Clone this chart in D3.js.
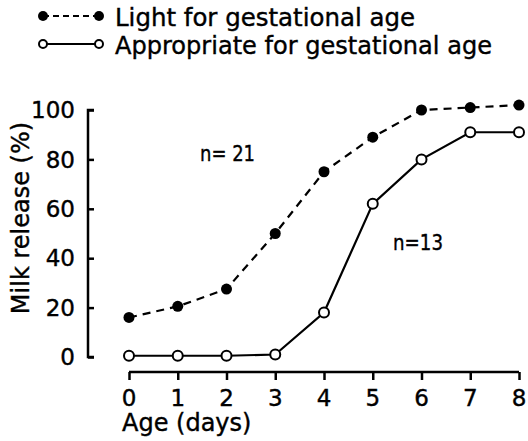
<!DOCTYPE html>
<meta charset="utf-8">
<style>
body { margin: 0; background: #fff; }
svg text { font-family: "DejaVu Sans", sans-serif; fill: #000; stroke: #000; stroke-width: 0.4px; }
.axis path, .axis line { stroke: #000; stroke-width: 2.5px; }
</style>
<svg width="528" height="441"></svg>
<script src="https://d3js.org/d3.v7.min.js"></script>
<script>

// data
var days = [0, 1, 2, 3, 4, 5, 6, 7, 8];
var lightValues = [16, 20.5, 27.5, 50, 75, 89, 100, 101, 102];
var appropriateValues = [0.5, 0.5, 0.5, 1, 18, 62, 80, 91, 91];
var yTicks = [0, 20, 40, 60, 80, 100];
var seriesNames = ["Light for gestational age", "Appropriate for gestational age"];
var nLabels = ["n= 21", "n=13"];

var svg = d3.select("svg");

var x = d3.scaleLinear().domain([0, 8]).range([129, 519]);
var y = d3.scaleLinear().domain([0, 100]).range([357, 110]);

// y axis
var yAxis = d3.axisRight(y).tickValues(yTicks).tickSize(6).tickFormat(function(d) { return ""; });
var gy = svg.append("g").attr("class", "axis").attr("transform", "translate(88,0)").call(yAxis);
gy.select(".domain").attr("d", "M" + 6 + "," + y(100) + "H0V" + y(0) + "H6");
svg.append("g").selectAll("text").data(yTicks).enter().append("text")
  .attr("x", 75).attr("y", function(d) { return y(d); })
  .attr("dy", "0.36em").attr("text-anchor", "end")
  .style("font-size", "23px")
  .text(function(d) { return d; });

svg.append("text")
  .attr("transform", "translate(29,218) rotate(-90)")
  .attr("text-anchor", "middle")
  .style("font-size", "24px")
  .text("Milk release (%)");

// x axis
var xAxis = d3.axisBottom(x).tickValues(days).tickSize(8).tickFormat(function(d) { return ""; });
var gx = svg.append("g").attr("class", "axis").attr("transform", "translate(0,372)").call(xAxis);
gx.select(".domain").attr("d", "M" + x(0) + ",0H" + x(8));
svg.append("g").selectAll("text").data(days).enter().append("text")
  .attr("x", function(d) { return x(d); }).attr("y", 406)
  .attr("text-anchor", "middle")
  .style("font-size", "23px")
  .text(function(d) { return d; });

svg.append("text")
  .attr("x", 122).attr("y", 431)
  .style("font-size", "24px")
  .text("Age (days)");

// lines
var line = d3.line().x(function(d, i) { return x(days[i]); }).y(function(d) { return y(d); });

svg.append("path").datum(lightValues)
  .attr("d", line).attr("fill", "none").attr("stroke", "#000")
  .attr("stroke-width", 2.2).attr("stroke-dasharray", "8,6");

svg.append("path").datum(appropriateValues)
  .attr("d", line).attr("fill", "none").attr("stroke", "#000")
  .attr("stroke-width", 2.2);

svg.append("g").selectAll("circle").data(lightValues).enter().append("circle")
  .attr("cx", function(d, i) { return x(days[i]); })
  .attr("cy", function(d) { return y(d); })
  .attr("r", 5.5).attr("fill", "#000");

svg.append("g").selectAll("circle").data(appropriateValues).enter().append("circle")
  .attr("cx", function(d, i) { return x(days[i]); })
  .attr("cy", function(d) { return y(d); })
  .attr("r", 5).attr("fill", "#fff").attr("stroke", "#000").attr("stroke-width", 2);

// annotations
svg.append("text").attr("x", 200).attr("y", 161).style("font-size", "22px")
  .attr("textLength", 55).attr("lengthAdjust", "spacingAndGlyphs").text(nLabels[0]);
svg.append("text").attr("x", 393).attr("y", 250).style("font-size", "22px")
  .attr("textLength", 50).attr("lengthAdjust", "spacingAndGlyphs").text(nLabels[1]);

// legend
var legend = svg.append("g");
legend.append("line").attr("x1", 43).attr("x2", 99).attr("y1", 16).attr("y2", 16)
  .attr("stroke", "#000").attr("stroke-width", 2).attr("stroke-dasharray", "6,4");
legend.append("circle").attr("cx", 43).attr("cy", 16).attr("r", 5).attr("fill", "#000");
legend.append("circle").attr("cx", 99).attr("cy", 16).attr("r", 5).attr("fill", "#000");
legend.append("text").attr("x", 115).attr("y", 26).style("font-size", "24px")
  .attr("textLength", 300).attr("lengthAdjust", "spacingAndGlyphs").text(seriesNames[0]);

legend.append("line").attr("x1", 43).attr("x2", 99).attr("y1", 44).attr("y2", 44)
  .attr("stroke", "#000").attr("stroke-width", 2);
legend.append("circle").attr("cx", 43).attr("cy", 44).attr("r", 4).attr("fill", "#fff").attr("stroke", "#000").attr("stroke-width", 2);
legend.append("circle").attr("cx", 99).attr("cy", 44).attr("r", 4).attr("fill", "#fff").attr("stroke", "#000").attr("stroke-width", 2);
legend.append("text").attr("x", 115).attr("y", 54).style("font-size", "24px")
  .attr("textLength", 377).attr("lengthAdjust", "spacingAndGlyphs").text(seriesNames[1]);

</script>
